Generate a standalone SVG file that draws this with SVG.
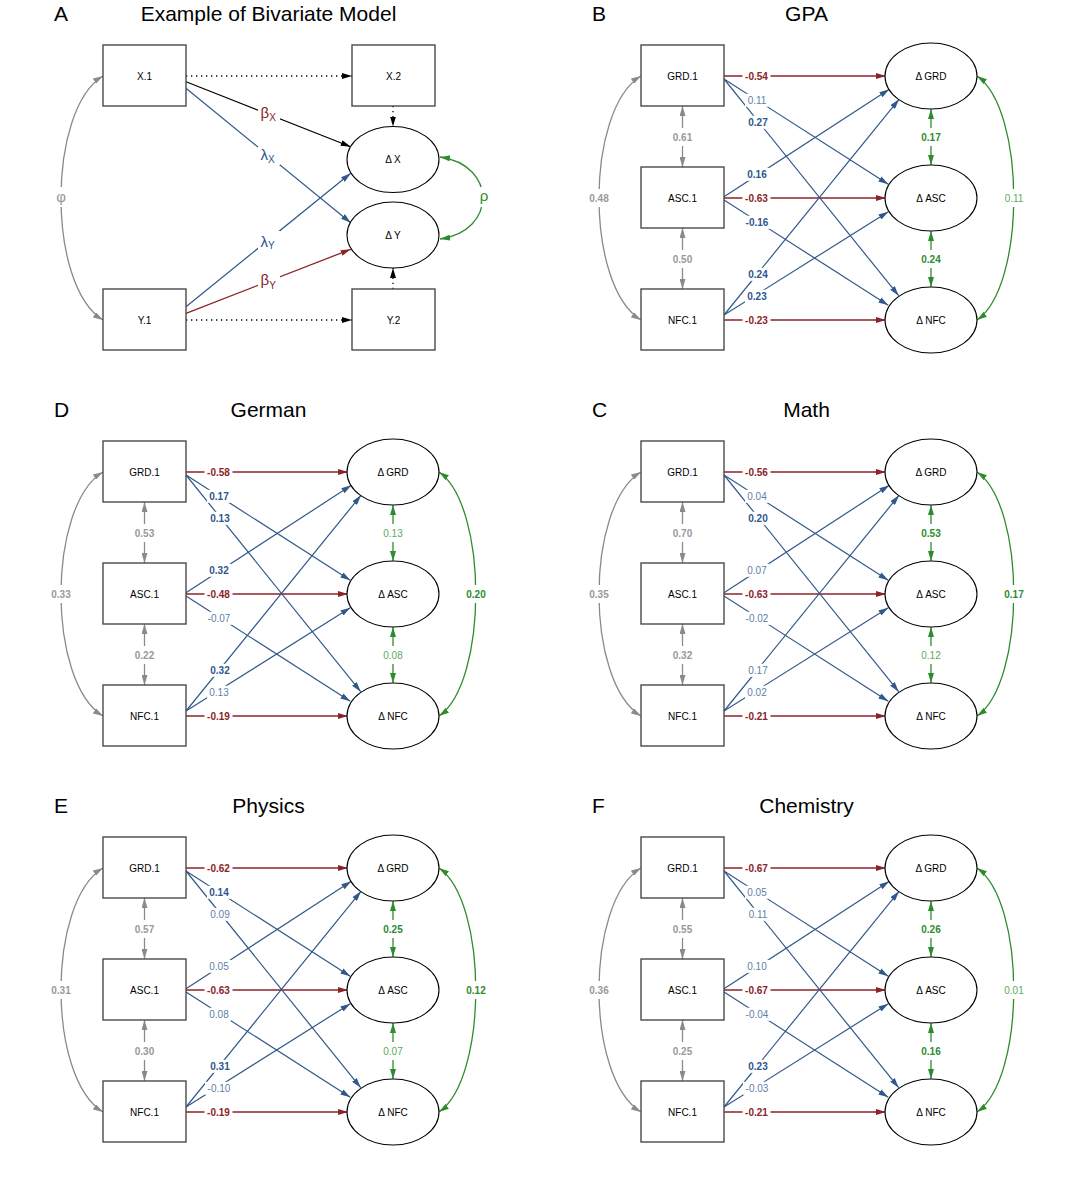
<svg xmlns="http://www.w3.org/2000/svg" width="1076" height="1187" viewBox="0 0 1076 1187">
<style>
text{font-family:"Liberation Sans",Arial,sans-serif}
.letter{font-size:21px;fill:#000}
.title{font-size:21px;fill:#000;text-anchor:middle}
.box{fill:#fff;stroke:#4a4a4a;stroke-width:1.4}
.ell{fill:#fff;stroke:#000;stroke-width:1.1}
.nl{font-size:10px;text-anchor:middle;fill:#000}
.rd{fill:none;stroke:#8B2328;stroke-width:1.3;marker-end:url(#mR)}
.bl{fill:none;stroke:#31588A;stroke-width:1.2;marker-end:url(#mB)}
.ek{fill:none;stroke:#000;stroke-width:1.2;marker-end:url(#mK)}
.dot{fill:none;stroke:#000;stroke-width:1.3;stroke-dasharray:1.3 3.7;marker-end:url(#mK)}
.gy{fill:none;stroke:#8A8A8A;stroke-width:1.3;marker-start:url(#mY);marker-end:url(#mY)}
.gn{fill:none;stroke:#2E8B2E;stroke-width:1.3;marker-start:url(#mG);marker-end:url(#mG)}
.bg{fill:#fff}
.lb{font-size:10px;text-anchor:middle}
.b{font-weight:bold}
.tr{fill:#8B2328}
.tb{fill:#2D5690}
.tbn{fill:#5D7FA8}
.tg{fill:#2E8B2E}
.tgn{fill:#5DAA5D}
.ty{fill:#999}
.gk{font-size:15px}
</style>
<defs>
<marker id="mR" viewBox="0 0 10 6" refX="10" refY="3" markerWidth="10" markerHeight="6" markerUnits="userSpaceOnUse" orient="auto-start-reverse"><path d="M0,0L10,3L0,6z" fill="#8B2328"/></marker>
<marker id="mB" viewBox="0 0 10 6" refX="10" refY="3" markerWidth="10" markerHeight="6" markerUnits="userSpaceOnUse" orient="auto-start-reverse"><path d="M0,0L10,3L0,6z" fill="#31588A"/></marker>
<marker id="mG" viewBox="0 0 10 6" refX="10" refY="3" markerWidth="10" markerHeight="6" markerUnits="userSpaceOnUse" orient="auto-start-reverse"><path d="M0,0L10,3L0,6z" fill="#2E8B2E"/></marker>
<marker id="mY" viewBox="0 0 10 6" refX="10" refY="3" markerWidth="10" markerHeight="6" markerUnits="userSpaceOnUse" orient="auto-start-reverse"><path d="M0,0L10,3L0,6z" fill="#8A8A8A"/></marker>
<marker id="mK" viewBox="0 0 10 6" refX="10" refY="3" markerWidth="10" markerHeight="6" markerUnits="userSpaceOnUse" orient="auto-start-reverse"><path d="M0,0L10,3L0,6z" fill="#000"/></marker>
</defs>
<rect width="1076" height="1187" fill="#fff"/>

<!-- Panel A -->
<g id="panelA">
<text class="letter" x="54" y="21">A</text>
<text class="title" x="268.5" y="21">Example of Bivariate Model</text>
<g id="A-connectors">
<path class="dot" d="M186,76H352"/>
<path class="dot" d="M186,320H352"/>
<path class="dot" d="M393,106V126.5"/>
<path class="dot" d="M393,289V268"/>
<path class="ek" d="M186,81.7L350.7,146.7"/>
<path class="bl" d="M186,88.3L350.7,222.7"/>
<path class="bl" d="M186,306.7L350.7,173.3"/>
<path class="rd" d="M186,313.3L350.7,249.3"/>
<path class="gy" d="M103,76C47,110 47,286 103,320"/>
<path class="gn" d="M440,157C497,165 497,231 440,239"/>
<rect class="bg" x="258" y="105" width="22" height="18"/>
<text class="gk tr" x="260.5" y="117.7">β<tspan font-size="10" dy="3">X</tspan></text>
<rect class="bg" x="258" y="145" width="22" height="20"/>
<text class="gk tb" x="260.5" y="159.8" font-size="16">λ<tspan font-size="10" dy="3.5">X</tspan></text>
<rect class="bg" x="258" y="231" width="22" height="20"/>
<text class="gk tb" x="260.5" y="246.5" font-size="16">λ<tspan font-size="10" dy="2.5">Y</tspan></text>
<rect class="bg" x="258" y="273" width="22" height="18"/>
<text class="gk tr" x="260.5" y="284.5">β<tspan font-size="10" dy="4">Y</tspan></text>
<rect class="bg" x="52" y="187" width="18" height="20"/>
<text class="gk ty" x="61" y="202" text-anchor="middle" font-size="16">φ</text>
<rect class="bg" x="475" y="187" width="18" height="20"/>
<text class="gk tg" x="484" y="200.5" text-anchor="middle" font-size="16">ρ</text>
</g>
<g id="A-X1"><rect class="box" x="103" y="45" width="83" height="61"/><text class="nl" x="144.5" y="79.6">X.1</text></g>
<g id="A-X2"><rect class="box" x="352" y="45" width="83" height="61"/><text class="nl" x="393.5" y="79.6">X.2</text></g>
<g id="A-Y1"><rect class="box" x="103" y="289" width="83" height="61"/><text class="nl" x="144.5" y="323.6">Y.1</text></g>
<g id="A-Y2"><rect class="box" x="352" y="289" width="83" height="61"/><text class="nl" x="393.5" y="323.6">Y.2</text></g>
<g id="A-dX"><ellipse class="ell" cx="393" cy="159.5" rx="46" ry="33"/><text class="nl" x="393" y="163.1">Δ X</text></g>
<g id="A-dY"><ellipse class="ell" cx="393" cy="235" rx="46" ry="33"/><text class="nl" x="393" y="238.6">Δ Y</text></g>
</g>

<!-- Panel B -->
<g id="panelB" transform="translate(538,0)">
<text class="letter" x="54" y="21">B</text>
<text class="title" x="268.5" y="21">GPA</text>
<g id="B-connectors">
<path class="rd" d="M186,76H348"/><path class="rd" d="M186,198H348"/><path class="rd" d="M186,320H348"/>
<path class="bl" d="M186,79L350.3,184.3"/><path class="bl" d="M186,79L360.7,295.7"/><path class="bl" d="M186,196.7L351.3,89.3"/><path class="bl" d="M186,200L350.3,305.3"/><path class="bl" d="M186,315L361,99.3"/><path class="bl" d="M186,315L350.3,211.7"/>
<path class="gy" d="M144.5,106V167"/><path class="gy" d="M144.5,228V289"/><path class="gy" d="M103,76C47,110 47,286 103,320"/>
<path class="gn" d="M393,109V165"/><path class="gn" d="M393,231V287"/><path class="gn" d="M439,76C488,110 488,286 439,320"/>
<rect class="bg" x="204.5" y="69.5" width="28" height="13"/><text class="lb b tr" x="218.5" y="79.6">-0.54</text>
<rect class="bg" x="204.5" y="191.5" width="28" height="13"/><text class="lb b tr" x="218.5" y="201.6">-0.63</text>
<rect class="bg" x="204.5" y="313.5" width="28" height="13"/><text class="lb b tr" x="218.5" y="323.6">-0.23</text>
<rect class="bg" x="207" y="93.8" width="24" height="13"/><text class="lb tbn" x="219" y="103.9">0.11</text>
<rect class="bg" x="208" y="115.8" width="24" height="13"/><text class="lb b tb" x="220" y="125.9">0.27</text>
<rect class="bg" x="207" y="167.8" width="24" height="13"/><text class="lb b tb" x="219" y="177.9">0.16</text>
<rect class="bg" x="205" y="215.8" width="28" height="13"/><text class="lb b tb" x="219" y="225.9">-0.16</text>
<rect class="bg" x="208" y="267.8" width="24" height="13"/><text class="lb b tb" x="220" y="277.9">0.24</text>
<rect class="bg" x="207" y="289.8" width="24" height="13"/><text class="lb b tb" x="219" y="299.9">0.23</text>
<rect class="bg" x="132.5" y="128" width="24" height="18"/><text class="lb b ty" x="144.5" y="140.6">0.61</text>
<rect class="bg" x="132.5" y="250" width="24" height="18"/><text class="lb b ty" x="144.5" y="262.6">0.50</text>
<rect class="bg" x="49" y="189" width="24" height="18"/><text class="lb b ty" x="61" y="201.6">0.48</text>
<rect class="bg" x="381" y="128" width="24" height="18"/><text class="lb b tg" x="393" y="140.6">0.17</text>
<rect class="bg" x="381" y="250" width="24" height="18"/><text class="lb b tg" x="393" y="262.6">0.24</text>
<rect class="bg" x="464" y="189" width="24" height="18"/><text class="lb tgn" x="476" y="201.6">0.11</text>
</g>
<g id="B-GRD1"><rect class="box" x="103" y="45" width="83" height="61"/><text class="nl" x="144.5" y="79.6">GRD.1</text></g>
<g id="B-ASC1"><rect class="box" x="103" y="167" width="83" height="61"/><text class="nl" x="144.5" y="201.6">ASC.1</text></g>
<g id="B-NFC1"><rect class="box" x="103" y="289" width="83" height="61"/><text class="nl" x="144.5" y="323.6">NFC.1</text></g>
<g id="B-dGRD"><ellipse class="ell" cx="393" cy="76" rx="46" ry="33"/><text class="nl" x="393" y="79.6">Δ GRD</text></g>
<g id="B-dASC"><ellipse class="ell" cx="393" cy="198" rx="46" ry="33"/><text class="nl" x="393" y="201.6">Δ ASC</text></g>
<g id="B-dNFC"><ellipse class="ell" cx="393" cy="320" rx="46" ry="33"/><text class="nl" x="393" y="323.6">Δ NFC</text></g>
</g>

<!-- Panel D -->
<g id="panelD" transform="translate(0,396)">
<text class="letter" x="54" y="21">D</text>
<text class="title" x="268.5" y="21">German</text>
<g id="D-connectors">
<path class="rd" d="M186,76H348"/><path class="rd" d="M186,198H348"/><path class="rd" d="M186,320H348"/>
<path class="bl" d="M186,79L350.3,184.3"/><path class="bl" d="M186,79L360.7,295.7"/><path class="bl" d="M186,196.7L351.3,89.3"/><path class="bl" d="M186,200L350.3,305.3"/><path class="bl" d="M186,315L361,99.3"/><path class="bl" d="M186,315L350.3,211.7"/>
<path class="gy" d="M144.5,106V167"/><path class="gy" d="M144.5,228V289"/><path class="gy" d="M103,76C47,110 47,286 103,320"/>
<path class="gn" d="M393,109V165"/><path class="gn" d="M393,231V287"/><path class="gn" d="M439,76C488,110 488,286 439,320"/>
<rect class="bg" x="204.5" y="69.5" width="28" height="13"/><text class="lb b tr" x="218.5" y="79.6">-0.58</text>
<rect class="bg" x="204.5" y="191.5" width="28" height="13"/><text class="lb b tr" x="218.5" y="201.6">-0.48</text>
<rect class="bg" x="204.5" y="313.5" width="28" height="13"/><text class="lb b tr" x="218.5" y="323.6">-0.19</text>
<rect class="bg" x="207" y="93.8" width="24" height="13"/><text class="lb b tb" x="219" y="103.9">0.17</text>
<rect class="bg" x="208" y="115.8" width="24" height="13"/><text class="lb b tb" x="220" y="125.9">0.13</text>
<rect class="bg" x="207" y="167.8" width="24" height="13"/><text class="lb b tb" x="219" y="177.9">0.32</text>
<rect class="bg" x="205" y="215.8" width="28" height="13"/><text class="lb tbn" x="219" y="225.9">-0.07</text>
<rect class="bg" x="208" y="267.8" width="24" height="13"/><text class="lb b tb" x="220" y="277.9">0.32</text>
<rect class="bg" x="207" y="289.8" width="24" height="13"/><text class="lb tbn" x="219" y="299.9">0.13</text>
<rect class="bg" x="132.5" y="128" width="24" height="18"/><text class="lb b ty" x="144.5" y="140.6">0.53</text>
<rect class="bg" x="132.5" y="250" width="24" height="18"/><text class="lb b ty" x="144.5" y="262.6">0.22</text>
<rect class="bg" x="49" y="189" width="24" height="18"/><text class="lb b ty" x="61" y="201.6">0.33</text>
<rect class="bg" x="381" y="128" width="24" height="18"/><text class="lb tgn" x="393" y="140.6">0.13</text>
<rect class="bg" x="381" y="250" width="24" height="18"/><text class="lb tgn" x="393" y="262.6">0.08</text>
<rect class="bg" x="464" y="189" width="24" height="18"/><text class="lb b tg" x="476" y="201.6">0.20</text>
</g>
<g id="D-GRD1"><rect class="box" x="103" y="45" width="83" height="61"/><text class="nl" x="144.5" y="79.6">GRD.1</text></g>
<g id="D-ASC1"><rect class="box" x="103" y="167" width="83" height="61"/><text class="nl" x="144.5" y="201.6">ASC.1</text></g>
<g id="D-NFC1"><rect class="box" x="103" y="289" width="83" height="61"/><text class="nl" x="144.5" y="323.6">NFC.1</text></g>
<g id="D-dGRD"><ellipse class="ell" cx="393" cy="76" rx="46" ry="33"/><text class="nl" x="393" y="79.6">Δ GRD</text></g>
<g id="D-dASC"><ellipse class="ell" cx="393" cy="198" rx="46" ry="33"/><text class="nl" x="393" y="201.6">Δ ASC</text></g>
<g id="D-dNFC"><ellipse class="ell" cx="393" cy="320" rx="46" ry="33"/><text class="nl" x="393" y="323.6">Δ NFC</text></g>
</g>

<!-- Panel C -->
<g id="panelC" transform="translate(538,396)">
<text class="letter" x="54" y="21">C</text>
<text class="title" x="268.5" y="21">Math</text>
<g id="C-connectors">
<path class="rd" d="M186,76H348"/><path class="rd" d="M186,198H348"/><path class="rd" d="M186,320H348"/>
<path class="bl" d="M186,79L350.3,184.3"/><path class="bl" d="M186,79L360.7,295.7"/><path class="bl" d="M186,196.7L351.3,89.3"/><path class="bl" d="M186,200L350.3,305.3"/><path class="bl" d="M186,315L361,99.3"/><path class="bl" d="M186,315L350.3,211.7"/>
<path class="gy" d="M144.5,106V167"/><path class="gy" d="M144.5,228V289"/><path class="gy" d="M103,76C47,110 47,286 103,320"/>
<path class="gn" d="M393,109V165"/><path class="gn" d="M393,231V287"/><path class="gn" d="M439,76C488,110 488,286 439,320"/>
<rect class="bg" x="204.5" y="69.5" width="28" height="13"/><text class="lb b tr" x="218.5" y="79.6">-0.56</text>
<rect class="bg" x="204.5" y="191.5" width="28" height="13"/><text class="lb b tr" x="218.5" y="201.6">-0.63</text>
<rect class="bg" x="204.5" y="313.5" width="28" height="13"/><text class="lb b tr" x="218.5" y="323.6">-0.21</text>
<rect class="bg" x="207" y="93.8" width="24" height="13"/><text class="lb tbn" x="219" y="103.9">0.04</text>
<rect class="bg" x="208" y="115.8" width="24" height="13"/><text class="lb b tb" x="220" y="125.9">0.20</text>
<rect class="bg" x="207" y="167.8" width="24" height="13"/><text class="lb tbn" x="219" y="177.9">0.07</text>
<rect class="bg" x="205" y="215.8" width="28" height="13"/><text class="lb tbn" x="219" y="225.9">-0.02</text>
<rect class="bg" x="208" y="267.8" width="24" height="13"/><text class="lb tbn" x="220" y="277.9">0.17</text>
<rect class="bg" x="207" y="289.8" width="24" height="13"/><text class="lb tbn" x="219" y="299.9">0.02</text>
<rect class="bg" x="132.5" y="128" width="24" height="18"/><text class="lb b ty" x="144.5" y="140.6">0.70</text>
<rect class="bg" x="132.5" y="250" width="24" height="18"/><text class="lb b ty" x="144.5" y="262.6">0.32</text>
<rect class="bg" x="49" y="189" width="24" height="18"/><text class="lb b ty" x="61" y="201.6">0.35</text>
<rect class="bg" x="381" y="128" width="24" height="18"/><text class="lb b tg" x="393" y="140.6">0.53</text>
<rect class="bg" x="381" y="250" width="24" height="18"/><text class="lb tgn" x="393" y="262.6">0.12</text>
<rect class="bg" x="464" y="189" width="24" height="18"/><text class="lb b tg" x="476" y="201.6">0.17</text>
</g>
<g id="C-GRD1"><rect class="box" x="103" y="45" width="83" height="61"/><text class="nl" x="144.5" y="79.6">GRD.1</text></g>
<g id="C-ASC1"><rect class="box" x="103" y="167" width="83" height="61"/><text class="nl" x="144.5" y="201.6">ASC.1</text></g>
<g id="C-NFC1"><rect class="box" x="103" y="289" width="83" height="61"/><text class="nl" x="144.5" y="323.6">NFC.1</text></g>
<g id="C-dGRD"><ellipse class="ell" cx="393" cy="76" rx="46" ry="33"/><text class="nl" x="393" y="79.6">Δ GRD</text></g>
<g id="C-dASC"><ellipse class="ell" cx="393" cy="198" rx="46" ry="33"/><text class="nl" x="393" y="201.6">Δ ASC</text></g>
<g id="C-dNFC"><ellipse class="ell" cx="393" cy="320" rx="46" ry="33"/><text class="nl" x="393" y="323.6">Δ NFC</text></g>
</g>

<!-- Panel E -->
<g id="panelE" transform="translate(0,792)">
<text class="letter" x="54" y="21">E</text>
<text class="title" x="268.5" y="21">Physics</text>
<g id="E-connectors">
<path class="rd" d="M186,76H348"/><path class="rd" d="M186,198H348"/><path class="rd" d="M186,320H348"/>
<path class="bl" d="M186,79L350.3,184.3"/><path class="bl" d="M186,79L360.7,295.7"/><path class="bl" d="M186,196.7L351.3,89.3"/><path class="bl" d="M186,200L350.3,305.3"/><path class="bl" d="M186,315L361,99.3"/><path class="bl" d="M186,315L350.3,211.7"/>
<path class="gy" d="M144.5,106V167"/><path class="gy" d="M144.5,228V289"/><path class="gy" d="M103,76C47,110 47,286 103,320"/>
<path class="gn" d="M393,109V165"/><path class="gn" d="M393,231V287"/><path class="gn" d="M439,76C488,110 488,286 439,320"/>
<rect class="bg" x="204.5" y="69.5" width="28" height="13"/><text class="lb b tr" x="218.5" y="79.6">-0.62</text>
<rect class="bg" x="204.5" y="191.5" width="28" height="13"/><text class="lb b tr" x="218.5" y="201.6">-0.63</text>
<rect class="bg" x="204.5" y="313.5" width="28" height="13"/><text class="lb b tr" x="218.5" y="323.6">-0.19</text>
<rect class="bg" x="207" y="93.8" width="24" height="13"/><text class="lb b tb" x="219" y="103.9">0.14</text>
<rect class="bg" x="208" y="115.8" width="24" height="13"/><text class="lb tbn" x="220" y="125.9">0.09</text>
<rect class="bg" x="207" y="167.8" width="24" height="13"/><text class="lb tbn" x="219" y="177.9">0.05</text>
<rect class="bg" x="207" y="215.8" width="24" height="13"/><text class="lb tbn" x="219" y="225.9">0.08</text>
<rect class="bg" x="208" y="267.8" width="24" height="13"/><text class="lb b tb" x="220" y="277.9">0.31</text>
<rect class="bg" x="205" y="289.8" width="28" height="13"/><text class="lb tbn" x="219" y="299.9">-0.10</text>
<rect class="bg" x="132.5" y="128" width="24" height="18"/><text class="lb b ty" x="144.5" y="140.6">0.57</text>
<rect class="bg" x="132.5" y="250" width="24" height="18"/><text class="lb b ty" x="144.5" y="262.6">0.30</text>
<rect class="bg" x="49" y="189" width="24" height="18"/><text class="lb b ty" x="61" y="201.6">0.31</text>
<rect class="bg" x="381" y="128" width="24" height="18"/><text class="lb b tg" x="393" y="140.6">0.25</text>
<rect class="bg" x="381" y="250" width="24" height="18"/><text class="lb tgn" x="393" y="262.6">0.07</text>
<rect class="bg" x="464" y="189" width="24" height="18"/><text class="lb b tg" x="476" y="201.6">0.12</text>
</g>
<g id="E-GRD1"><rect class="box" x="103" y="45" width="83" height="61"/><text class="nl" x="144.5" y="79.6">GRD.1</text></g>
<g id="E-ASC1"><rect class="box" x="103" y="167" width="83" height="61"/><text class="nl" x="144.5" y="201.6">ASC.1</text></g>
<g id="E-NFC1"><rect class="box" x="103" y="289" width="83" height="61"/><text class="nl" x="144.5" y="323.6">NFC.1</text></g>
<g id="E-dGRD"><ellipse class="ell" cx="393" cy="76" rx="46" ry="33"/><text class="nl" x="393" y="79.6">Δ GRD</text></g>
<g id="E-dASC"><ellipse class="ell" cx="393" cy="198" rx="46" ry="33"/><text class="nl" x="393" y="201.6">Δ ASC</text></g>
<g id="E-dNFC"><ellipse class="ell" cx="393" cy="320" rx="46" ry="33"/><text class="nl" x="393" y="323.6">Δ NFC</text></g>
</g>

<!-- Panel F -->
<g id="panelF" transform="translate(538,792)">
<text class="letter" x="54" y="21">F</text>
<text class="title" x="268.5" y="21">Chemistry</text>
<g id="F-connectors">
<path class="rd" d="M186,76H348"/><path class="rd" d="M186,198H348"/><path class="rd" d="M186,320H348"/>
<path class="bl" d="M186,79L350.3,184.3"/><path class="bl" d="M186,79L360.7,295.7"/><path class="bl" d="M186,196.7L351.3,89.3"/><path class="bl" d="M186,200L350.3,305.3"/><path class="bl" d="M186,315L361,99.3"/><path class="bl" d="M186,315L350.3,211.7"/>
<path class="gy" d="M144.5,106V167"/><path class="gy" d="M144.5,228V289"/><path class="gy" d="M103,76C47,110 47,286 103,320"/>
<path class="gn" d="M393,109V165"/><path class="gn" d="M393,231V287"/><path class="gn" d="M439,76C488,110 488,286 439,320"/>
<rect class="bg" x="204.5" y="69.5" width="28" height="13"/><text class="lb b tr" x="218.5" y="79.6">-0.67</text>
<rect class="bg" x="204.5" y="191.5" width="28" height="13"/><text class="lb b tr" x="218.5" y="201.6">-0.67</text>
<rect class="bg" x="204.5" y="313.5" width="28" height="13"/><text class="lb b tr" x="218.5" y="323.6">-0.21</text>
<rect class="bg" x="207" y="93.8" width="24" height="13"/><text class="lb tbn" x="219" y="103.9">0.05</text>
<rect class="bg" x="208" y="115.8" width="24" height="13"/><text class="lb tbn" x="220" y="125.9">0.11</text>
<rect class="bg" x="207" y="167.8" width="24" height="13"/><text class="lb tbn" x="219" y="177.9">0.10</text>
<rect class="bg" x="205" y="215.8" width="28" height="13"/><text class="lb tbn" x="219" y="225.9">-0.04</text>
<rect class="bg" x="208" y="267.8" width="24" height="13"/><text class="lb b tb" x="220" y="277.9">0.23</text>
<rect class="bg" x="205" y="289.8" width="28" height="13"/><text class="lb tbn" x="219" y="299.9">-0.03</text>
<rect class="bg" x="132.5" y="128" width="24" height="18"/><text class="lb b ty" x="144.5" y="140.6">0.55</text>
<rect class="bg" x="132.5" y="250" width="24" height="18"/><text class="lb b ty" x="144.5" y="262.6">0.25</text>
<rect class="bg" x="49" y="189" width="24" height="18"/><text class="lb b ty" x="61" y="201.6">0.36</text>
<rect class="bg" x="381" y="128" width="24" height="18"/><text class="lb b tg" x="393" y="140.6">0.26</text>
<rect class="bg" x="381" y="250" width="24" height="18"/><text class="lb b tg" x="393" y="262.6">0.16</text>
<rect class="bg" x="464" y="189" width="24" height="18"/><text class="lb tgn" x="476" y="201.6">0.01</text>
</g>
<g id="F-GRD1"><rect class="box" x="103" y="45" width="83" height="61"/><text class="nl" x="144.5" y="79.6">GRD.1</text></g>
<g id="F-ASC1"><rect class="box" x="103" y="167" width="83" height="61"/><text class="nl" x="144.5" y="201.6">ASC.1</text></g>
<g id="F-NFC1"><rect class="box" x="103" y="289" width="83" height="61"/><text class="nl" x="144.5" y="323.6">NFC.1</text></g>
<g id="F-dGRD"><ellipse class="ell" cx="393" cy="76" rx="46" ry="33"/><text class="nl" x="393" y="79.6">Δ GRD</text></g>
<g id="F-dASC"><ellipse class="ell" cx="393" cy="198" rx="46" ry="33"/><text class="nl" x="393" y="201.6">Δ ASC</text></g>
<g id="F-dNFC"><ellipse class="ell" cx="393" cy="320" rx="46" ry="33"/><text class="nl" x="393" y="323.6">Δ NFC</text></g>
</g>
</svg>
